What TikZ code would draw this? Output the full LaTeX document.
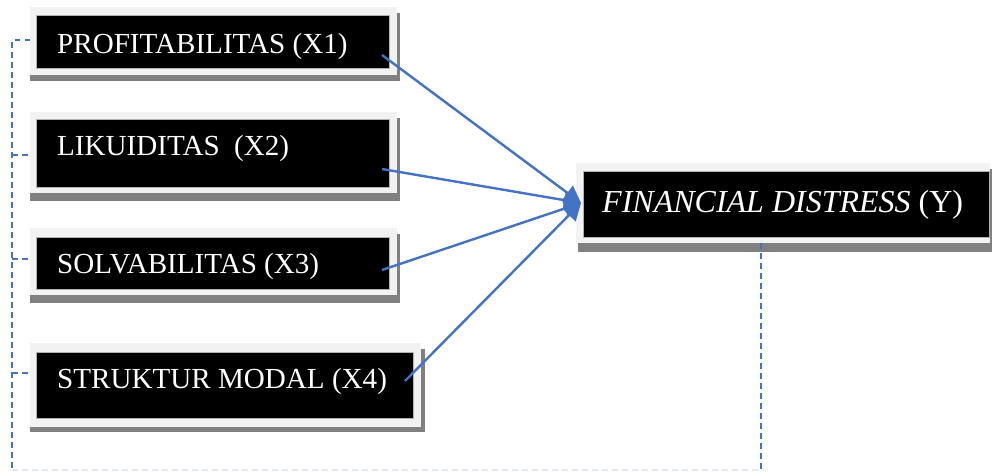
\documentclass[tikz,border=0pt]{standalone}
\usepackage{fontspec}
\setmainfont{Liberation Serif}
\usetikzlibrary{arrows.meta}
\definecolor{arrowblue}{HTML}{4472C4}
\definecolor{framegray}{HTML}{F2F2F2}
\definecolor{shadowgray}{HTML}{808080}
\definecolor{faintline}{HTML}{E4E8F4}
\tikzset{
  blackbox/.style={fill=black, draw=gray!60, line width=0.6pt},
  boxtext/.style={text=white, inner sep=0pt, anchor=base west, font=\fontsize{29.1}{32}\selectfont},
  link/.style={draw=arrowblue, line width=2.4pt, -{Triangle[length=17pt,width=18pt]}},
  dashlink/.style={draw=arrowblue, line width=1.9pt, dash pattern=on 5.5pt off 4.5pt},
  faintlink/.style={draw=faintline, line width=1.4pt, dash pattern=on 5.5pt off 4.5pt},
}
\begin{document}
\begin{tikzpicture}[x=1pt,y=-1pt]
\useasboundingbox (0,0) rectangle (992,472);
% box 1
\fill[shadowgray] (30,13) rectangle (400,81);
\fill[framegray] (30,7) rectangle (397,75);
\node[blackbox, minimum width=353pt, minimum height=53pt, inner sep=0pt] (b1) at (212.5,41.5) {};
\node[boxtext] (t1) at (57,53) {PROFITABILITAS (X1)};
% box 2
\fill[shadowgray] (30,118) rectangle (400,201);
\fill[framegray] (30,112) rectangle (397,193);
\node[blackbox, minimum width=353pt, minimum height=68pt, inner sep=0pt] (b2) at (212.5,153) {};
\node[boxtext] (t2) at (57,155) {LIKUIDITAS\ \ (X2)};
% box 3
\fill[shadowgray] (30,234) rectangle (400,303);
\fill[framegray] (30,228) rectangle (397,295);
\node[blackbox, minimum width=353pt, minimum height=52pt, inner sep=0pt] (b3) at (212.5,263) {};
\node[boxtext] (t3) at (57,273) {SOLVABILITAS (X3)};
% box 4
\fill[shadowgray] (30,349) rectangle (425,432);
\fill[framegray] (30,343) rectangle (421,427);
\node[blackbox, minimum width=377pt, minimum height=66pt, inner sep=0pt] (b4) at (224.5,385) {};
\node[boxtext] (t4) at (57,388) {STRUKTUR MODAL (X4)};
% box Y
\fill[shadowgray] (578,169) rectangle (992,252);
\fill[framegray] (576,163) rectangle (990,243);
\node[blackbox, minimum width=406pt, minimum height=66pt, inner sep=0pt] (by) at (786,204) {};
\node[boxtext, font=\fontsize{32}{35}\selectfont] (ty) at (602,212) {\textit{FINANCIAL DISTRESS} (Y)};
% connector endpoints
\coordinate (s1) at (382,55);
\coordinate (s2) at (382,169);
\coordinate (s3) at (382,270);
\coordinate (s4) at (405,381);
\coordinate (tip) at (581,203);
\draw[link] (s1) -- (tip);
\draw[link] (s2) -- (tip);
\draw[link] (s3) -- (tip);
\draw[link] (s4) -- (tip);
% dashed bracket
\coordinate (d0) at (12,40);
\coordinate (d1) at (30,40);
\coordinate (d2) at (30,155);
\coordinate (e2) at (12,155);
\coordinate (d3) at (30,259);
\coordinate (e3) at (12,259);
\coordinate (d4) at (30,373);
\coordinate (e4) at (12,373);
\coordinate (dbot) at (12,472);
\coordinate (fl) at (12,470);
\coordinate (fr) at (761,470);
\coordinate (ytop) at (761,243);
\coordinate (ybot) at (761,472);
\draw[faintlink] (fl) -- (fr);
\draw[dashlink] (d1) -- (d0) -- (dbot);
\draw[dashlink] (e2) -- (d2);
\draw[dashlink] (e3) -- (d3);
\draw[dashlink] (e4) -- (d4);
\draw[dashlink] (ytop) -- (ybot);
\end{tikzpicture}
\end{document}
